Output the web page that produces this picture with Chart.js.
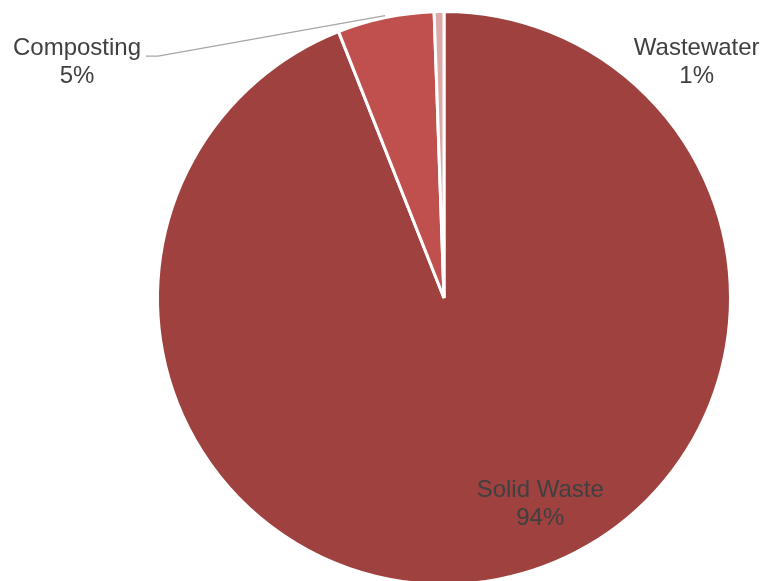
<!DOCTYPE html>
<html>
<head>
<meta charset="utf-8">
<script src="https://cdn.jsdelivr.net/npm/chart.js@4.4.1/dist/chart.umd.min.js"></script>
<style>
    html, body { margin: 0; padding: 0; background: #fff; overflow: hidden; }
    #wrap { position: relative; width: 764px; height: 600px; }
</style>
</head>
<body>
<div id="wrap"><canvas id="myChart"></canvas></div>
<script>
const categories = ['Solid Waste', 'Composting', 'Wastewater'];
const shares = [94.0, 5.45, 0.55];
const sliceColors = ['#9E413F', '#C0504D', '#DBA9A8'];

// where each label sits, in units of the pie radius from its centre
const labelSpots = [
    { dx: 0.336, dy: 0.719, leader: false },
    { dx: -1.281, dy: -0.823, leader: true },
    { dx: 0.882, dy: -0.823, leader: false }
];

const pieLabels = {
    id: 'pieLabels',
    afterDatasetsDraw(chart) {
        const ctx = chart.ctx;
        const arcs = chart.getDatasetMeta(0).data;
        const total = shares.reduce((a, b) => a + b, 0);
        ctx.save();
        ctx.font = '24px "Liberation Sans", Arial, sans-serif';
        ctx.fillStyle = '#404040';
        ctx.textAlign = 'center';
        ctx.textBaseline = 'middle';
        arcs.forEach((arc, i) => {
            const spot = labelSpots[i];
            const r = arc.outerRadius;
            const lx = arc.x + spot.dx * r;
            const ly = arc.y + spot.dy * r;
            const pct = Math.round(shares[i] / total * 100) + '%';
            ctx.fillText(categories[i], lx, ly - 14);
            ctx.fillText(pct, lx, ly + 14);
            if (spot.leader) {
                const w = ctx.measureText(categories[i]).width;
                const mid = (arc.startAngle + arc.endAngle) / 2;
                const ex = arc.x + Math.cos(mid) * (r + 2);
                const ey = arc.y + Math.sin(mid) * (r + 2);
                const sx = lx + w / 2 + 5;
                const sy = ly - 6;
                ctx.beginPath();
                ctx.moveTo(sx, sy);
                ctx.lineTo(sx + 12, sy);
                ctx.lineTo(ex, ey);
                ctx.strokeStyle = '#A6A6A6';
                ctx.lineWidth = 1.3;
                ctx.stroke();
            }
        });
        ctx.restore();
    }
};

const ctx = document.getElementById('myChart').getContext('2d');
const chart = new Chart(ctx, {
    type: 'pie',
    data: {
        labels: categories,
        datasets: [{
            data: shares,
            backgroundColor: sliceColors,
            borderColor: '#ffffff',
            borderWidth: 3
        }]
    },
    options: {
        responsive: true,
        maintainAspectRatio: false,
        animation: false,
        layout: {
            padding: { left: 156, right: 32, top: 10, bottom: 14 }
        },
        plugins: {
            legend: { display: false },
            tooltip: { enabled: false }
        }
    },
    plugins: [pieLabels]
});
</script>
</body>
</html>
